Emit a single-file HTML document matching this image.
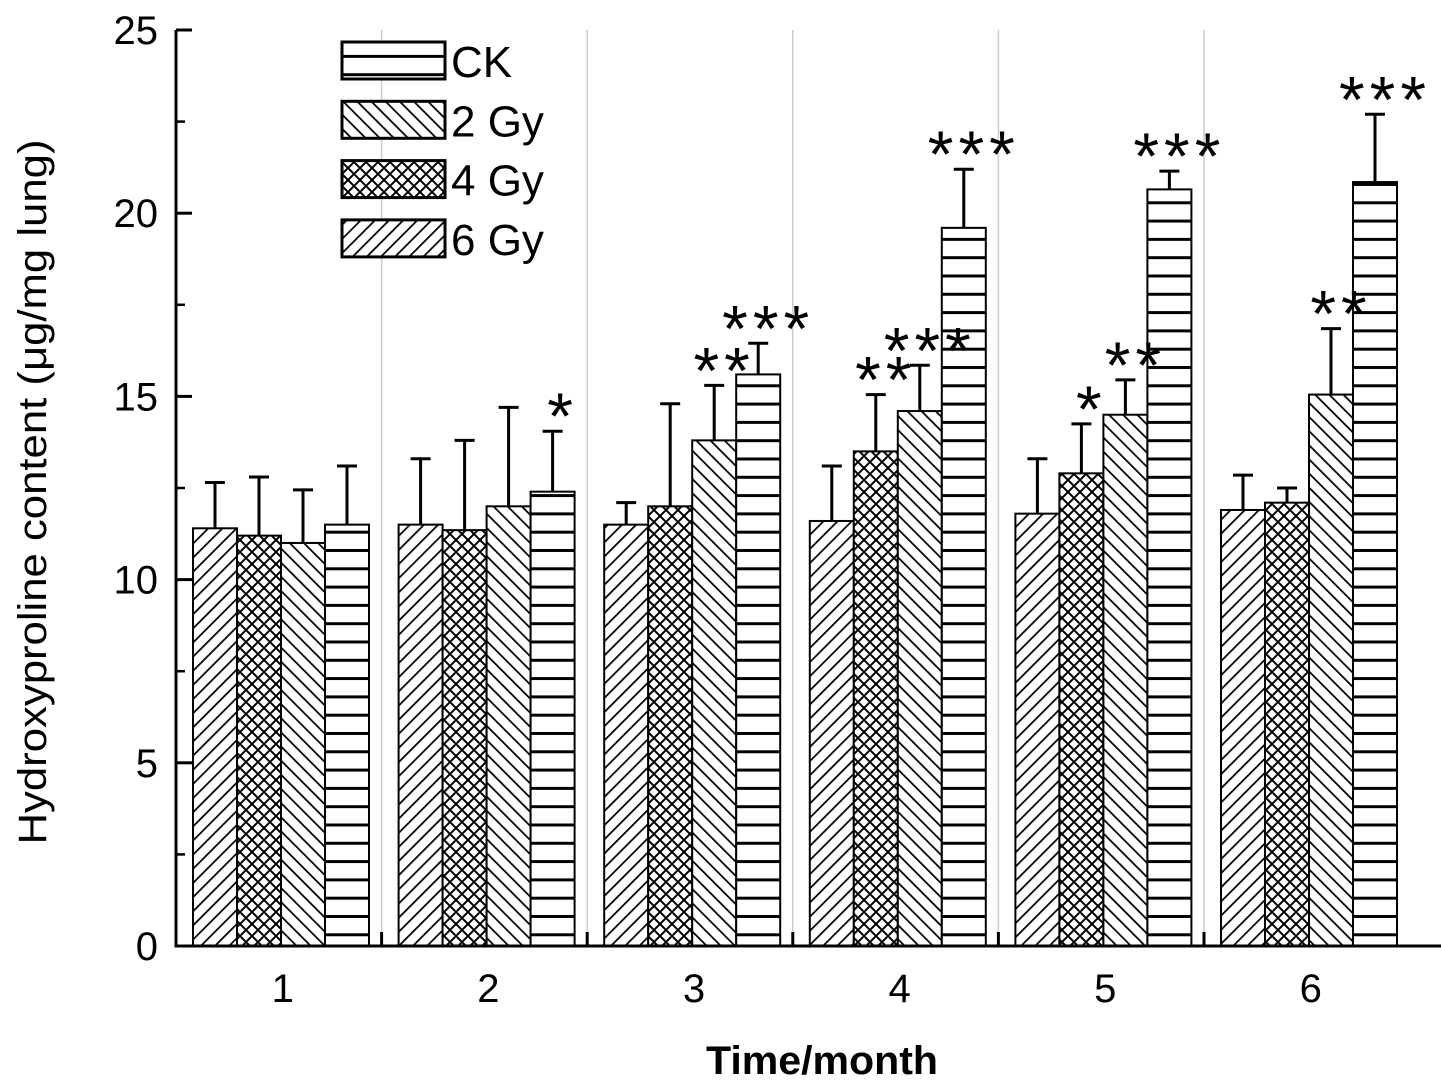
<!DOCTYPE html>
<html><head><meta charset="utf-8"><style>
html,body{margin:0;padding:0;background:#fff;}
svg{display:block;font-family:"Liberation Sans",Arial,sans-serif;}
</style></head><body>
<svg id="chart" width="1441" height="1088" viewBox="0 0 1441 1088" xmlns="http://www.w3.org/2000/svg">
<defs>
<pattern id="p6" patternUnits="userSpaceOnUse" width="10" height="10" patternTransform="rotate(45)"><rect width="10" height="10" fill="#fff"/><line x1="0" y1="0" x2="0" y2="10" stroke="#000" stroke-width="3.5"/></pattern>
<pattern id="p2" patternUnits="userSpaceOnUse" width="10" height="10" patternTransform="rotate(-45)"><rect width="10" height="10" fill="#fff"/><line x1="0" y1="0" x2="0" y2="10" stroke="#000" stroke-width="3.5"/></pattern>
<pattern id="p4" patternUnits="userSpaceOnUse" width="12" height="12"><rect width="12" height="12" fill="#fff"/><path d="M0 0L12 12M12 0L0 12" stroke="#000" stroke-width="2"/></pattern>
<pattern id="pck" patternUnits="userSpaceOnUse" width="20" height="18.3"><rect width="20" height="18.3" fill="#fff"/><line x1="0" y1="1.5" x2="20" y2="1.5" stroke="#000" stroke-width="3"/></pattern>
</defs>
<g id="grid"></g>
<g id="bars"></g>
<g id="stars"></g>
<g id="axes"></g>
<g id="legend"></g>
</svg>
<script>
const categories = ["1","2","3","4","5","6"];
const series = ["6 Gy","4 Gy","2 Gy","CK"];
const patterns = ["p6","p4","p2","pck"];
const vals6 = [11.4, 11.5, 11.5, 11.6, 11.8, 11.9];
const vals4 = [11.2, 11.35, 12.0, 13.5, 12.9, 12.1];
const vals2 = [11.0, 12.0, 13.8, 14.6, 14.5, 15.05];
const valsCK = [11.5, 12.4, 15.6, 19.6, 20.65, 20.85];
const err6 = [12.65, 13.3, 12.1, 13.1, 13.3, 12.85];
const err4 = [12.8, 13.8, 14.8, 15.05, 14.25, 12.5];
const err2 = [12.45, 14.7, 15.3, 15.85, 15.45, 16.85];
const errCK = [13.1, 14.05, 16.45, 21.2, 21.15, 22.7];
const stars6 = ["","","","","",""];
const stars4 = ["","","","**","*",""];
const stars2 = ["","","**","***","**","**"];
const starsCK = ["","*","***","***","***","***"];
const yTicks = [0,5,10,15,20,25];

const NS="http://www.w3.org/2000/svg";
const X0=176, Y0=946, Ytop=30, ymax=25, groupW=205.6, barW=44;
const y = v => Y0 - v/ymax*(Y0-Ytop);
const gx = i => X0 + 17 + i*groupW;
function el(tag, attrs, parent){const e=document.createElementNS(NS,tag);for(const k in attrs)e.setAttribute(k,attrs[k]);parent.appendChild(e);return e;}
const grid=document.getElementById('grid'), bars=document.getElementById('bars'), starG=document.getElementById('stars'), axes=document.getElementById('axes'), legend=document.getElementById('legend');

for(let i=1;i<categories.length;i++){
  const x=X0+i*groupW;
  const l=el('line',{x1:x,y1:Ytop,x2:x,y2:Y0,stroke:'#ccc','stroke-width':1.5},grid);
  
  
}
const vals=[vals6,vals4,vals2,valsCK], errs=[err6,err4,err2,errCK], stars=[stars6,stars4,stars2,starsCK];
categories.forEach((c,i)=>{
  for(let s=0;s<4;s++){
    const x=gx(i)+s*barW, v=vals[s][i];
    const r=el('rect',{x:x,y:y(v),width:barW,height:Y0-y(v),fill:'url(#'+patterns[s]+')',stroke:'#000','stroke-width':2},bars);
    
    
    const cx=x+barW/2, et=y(errs[s][i]);
    const eb=el('path',{d:`M${cx} ${y(v)}V${et}M${cx-10} ${et}H${cx+10}`,stroke:'#000','stroke-width':3,fill:'none'},bars);
    
    
    if(stars[s][i]){
      const t=el('text',{x:cx+10,y:et+8,'text-anchor':'middle','font-size':66,fill:'#000','letter-spacing':5},starG);
      t.textContent=stars[s][i];
      
      
    }
  }
  const tl=el('text',{x:X0+groupW*(i+0.5)+4,y:1002,'text-anchor':'middle','font-size':40,fill:'#000'},axes);
  tl.textContent=c;
  
  
  if(i>0){const tk=el('line',{x1:X0+i*groupW,y1:Y0,x2:X0+i*groupW,y2:Y0-14,stroke:'#000','stroke-width':3},axes);
  
  }
});
const ax=el('path',{d:`M${X0} ${Ytop}V${Y0}H1441`,stroke:'#000','stroke-width':3,fill:'none'},axes);


yTicks.forEach(t=>{
  const tk=el('line',{x1:X0,y1:y(t),x2:X0+16,y2:y(t),stroke:'#000','stroke-width':3},axes);
  
  
  if(t<25){const m=el('line',{x1:X0,y1:y(t+2.5),x2:X0+9,y2:y(t+2.5),stroke:'#000','stroke-width':2.5},axes);
  
  }
  const lb=el('text',{x:158,y:y(t)+14,'text-anchor':'end','font-size':40,fill:'#000'},axes);
  lb.textContent=t;
  
  
});
const yt=el('text',{x:0,y:0,transform:'translate(46 492) rotate(-90)','text-anchor':'middle','font-size':40,textLength:705,lengthAdjust:'spacingAndGlyphs',fill:'#000'},axes);
yt.textContent='Hydroxyproline content  (μg/mg lung)';


const xt=el('text',{x:822,y:1074,'text-anchor':'middle','font-size':40,'font-weight':'bold',textLength:232,lengthAdjust:'spacingAndGlyphs',fill:'#000'},axes);
xt.textContent='Time/month';


const legOrder=[3,2,1,0];
legOrder.forEach((s,k)=>{
  const yy=42+k*59.3;
  const r=el('rect',{x:342,y:yy,width:103,height:37,fill:'url(#'+patterns[s]+')',stroke:'#000','stroke-width':3},legend);
  
  
  const t=el('text',{x:451,y:yy+35,'font-size':44,fill:'#000'},legend);
  t.textContent=series[s];
  
  
});
</script>
</body></html>
